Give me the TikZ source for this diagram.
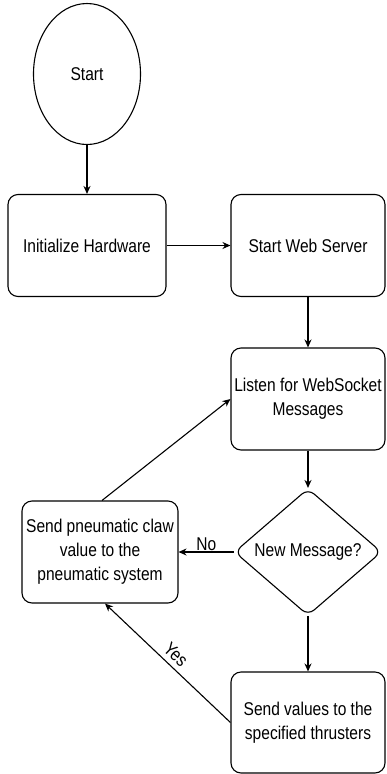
\documentclass[tikz,border=0pt]{standalone}
\usepackage{fontspec}
\setmainfont[FakeStretch=0.84]{Liberation Sans}
\usetikzlibrary{arrows.meta,shapes.geometric}

\tikzset{
  stepbox/.style={draw, line width=1.1pt, rounded corners=10pt, align=center,
    minimum width=156pt, minimum height=102pt, inner sep=2pt},
  flow/.style={line width=1.1pt, -{Stealth[length=8pt,width=7pt]}}
}

\begin{document}
\begin{tikzpicture}[x=1pt, y=-1pt, font=\fontsize{18.5}{24}\selectfont]
    \useasboundingbox (0,0) rectangle (386,774);
    % Draw the start circle and the boxes
    \node[draw, ellipse, line width=1.1pt, minimum width=107pt, minimum height=141pt] (start) at (87,74) {Start};
    \node[stepbox, minimum width=158pt] (init) at (87,245.5) {Initialize Hardware};
    \node[stepbox, minimum width=154pt] (web) at (308,245.5) {Start Web Server};
    \node[stepbox, minimum width=154pt] (listen) at (308,399) {Listen for WebSocket\\Messages};
    \node[draw, diamond, line width=1.1pt, rounded corners=8pt, aspect=1.16,
      minimum width=147pt, minimum height=127pt, inner sep=0pt] (decide) at (308,552) {New Message?};
    \node[stepbox] (pneum) at (100,552) {Send pneumatic claw\\value to the\\pneumatic system};
    \node[stepbox, minimum width=154pt, minimum height=101pt] (thrust) at (308,722.5) {Send values to the\\specified thrusters};
    % Draw the arrows
    \draw[flow] (start) -- (init);
    \draw[flow] (init) -- (web);
    \draw[flow] (web) -- (listen);
    \draw[flow] (listen) -- (decide);
    \draw[flow] (decide) -- node[above, inner sep=0.5pt] {No} (pneum);
    \draw[flow] (decide) -- (thrust);
    \draw[flow] (thrust.west) -- node[sloped, above, inner sep=5pt] {Yes} ([xshift=5pt]pneum.south);
    \draw[flow] ([xshift=2pt]pneum.north) -- (listen.west);
\end{tikzpicture}
\end{document}
